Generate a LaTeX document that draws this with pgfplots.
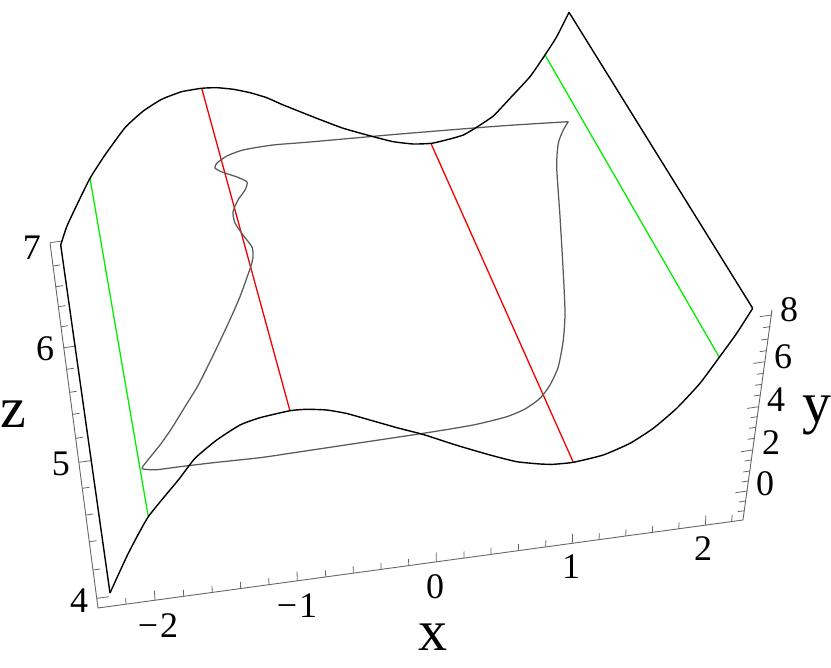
\documentclass[border=0pt]{standalone}
\usepackage{pgfplots}
\pgfplotsset{compat=1.18}
\usepackage{fontspec}
\setmainfont{Liberation Serif}
\definecolor{grn}{RGB}{0,240,0}
\definecolor{rd}{RGB}{245,0,0}
\tikzset{
  lab/.style={inner sep=0pt, font=\fontsize{36}{36}\selectfont, text=black},
  big/.style={inner sep=0pt, font=\fontsize{58}{58}\selectfont, text=black},
}
\begin{document}
\begin{tikzpicture}
\useasboundingbox (0,0) rectangle (831pt,668pt);
\begin{axis}[
  anchor=south west, at={(0,0)},
  scale only axis, width=831pt, height=668pt,
  xmin=0, xmax=831, ymin=0, ymax=668, y dir=reverse,
  hide axis, clip=false, unbounded coords=jump,
  every axis plot/.append style={no markers},
]
% box frame lines
\addplot[black!60, line width=0.9pt] coordinates {(50,243) (98,608) (743,520) (772,310)};
% z ticks
\addplot[black!60, line width=0.8pt] coordinates {
(50,242.7)(62,241) (nan,nan)
(53.1,266)(60,265) (nan,nan)
(55.8,286.7)(62.8,285.7) (nan,nan)
(58.5,306.7)(65.5,305.7) (nan,nan)
(61.1,326.7)(68,325.7) (nan,nan)
(63.9,347.7)(76,346) (nan,nan)
(66.8,369.3)(73.7,368.3) (nan,nan)
(69.8,392.3)(76.7,391.3) (nan,nan)
(72.7,414.3)(79.6,413.3) (nan,nan)
(75.9,438.3)(82.8,437.3) (nan,nan)
(79.1,462.3)(91,460.6) (nan,nan)
(82.5,488.3)(89.4,487.3) (nan,nan)
(86.1,515)(93,514) (nan,nan)
(89.6,541.7)(96.5,540.7) (nan,nan)
(93.3,570)(100.2,569) (nan,nan)
(97.1,598.3)(109,596.7)
};
% x ticks
\addplot[black!60, line width=0.8pt] coordinates {
(126,604.2)(125.7,597.7) (nan,nan)
(155,600.2)(154.4,590.7) (nan,nan)
(183.7,596.3)(183.4,589.8) (nan,nan)
(212.3,592.4)(212,585.9) (nan,nan)
(240.7,588.5)(240.4,582) (nan,nan)
(269,584.7)(268.7,578.2) (nan,nan)
(297.3,580.8)(297,571.3) (nan,nan)
(325.7,576.9)(325.5,570.4) (nan,nan)
(353.3,573.2)(353.1,566.7) (nan,nan)
(381,569.4)(380.9,562.9) (nan,nan)
(408.7,565.6)(408.6,559.1) (nan,nan)
(436.3,561.8)(436.3,552.3) (nan,nan)
(464,558.1)(464.1,551.6) (nan,nan)
(491,554.4)(491.1,547.9) (nan,nan)
(518.3,550.7)(518.5,544.2) (nan,nan)
(545.7,546.9)(545.9,540.4) (nan,nan)
(572.3,543.3)(572.6,533.8) (nan,nan)
(599,539.6)(599.3,533.1) (nan,nan)
(625.7,536)(626,529.5) (nan,nan)
(652.3,532.4)(652.7,525.9) (nan,nan)
(678.7,528.8)(679.1,522.3) (nan,nan)
(705.3,525.1)(705.9,515.6) (nan,nan)
(731.7,521.5)(732.2,515)
};
% y ticks
\addplot[black!60, line width=0.8pt] coordinates {
(771.6,315)(759.7,316.7) (nan,nan)
(770,326.7)(763,327.7) (nan,nan)
(768.3,339)(761.3,340) (nan,nan)
(766.7,350.7)(759.7,351.7) (nan,nan)
(765.2,361.7)(753.3,363.4) (nan,nan)
(763.6,373.3)(756.6,374.3) (nan,nan)
(762.1,384.3)(755.1,385.3) (nan,nan)
(760.6,395)(753.6,396) (nan,nan)
(759,406.7)(747.1,408.4) (nan,nan)
(757.6,416.7)(750.6,417.7) (nan,nan)
(756.1,427.3)(749.1,428.3) (nan,nan)
(754.6,438.3)(747.6,439.3) (nan,nan)
(753,450)(741.1,451.7) (nan,nan)
(751.6,460)(744.6,461) (nan,nan)
(750.1,471)(743.1,472) (nan,nan)
(748.7,481)(741.7,482) (nan,nan)
(747.3,491)(735.4,492.7) (nan,nan)
(745.9,501)(738.9,502) (nan,nan)
(744.6,510.7)(737.6,511.7)
};
% green and red lines
\addplot[grn, line width=1.3pt] coordinates {(90,178.3) (148.3,516.7)};
\addplot[grn, line width=1.3pt] coordinates {(545,55) (719.3,357.3)};
\addplot[rd, line width=1.3pt] coordinates {(201.7,88.3) (290,411)};
\addplot[rd, line width=1.3pt] coordinates {(431,143.5) (573.3,462.3)};
% gray curve
\addplot[black!65, line width=1.25pt, smooth, tension=0.4] coordinates {
(568.3,121.7)(500,126)(400,134)(310,142)(273,145)(243,150)(227,156)(217,163)(215,168)(222,172)(237,177)(247,182)(245,190)(238,200)(233,212)(235,223)(243,235)(252,247)(253,257)(250.7,266.7)(240,296.7)(228.3,323.3)(213.3,355)(198.3,385)(185,406.7)(171.7,428.3)(160,445)(142.7,466.7)(145,469.3)(156.7,469.7)(180,466.7)(213.3,462.7)(260,457.7)(290,453.3)(356.7,443.3)(423.3,433.3)(473.3,425)(506.7,416.7)(525,409)(540,398.3)(550,385)(558.3,366.7)(563.3,340)(565,313)(563.3,273)(560,216.7)(556.7,166.7)(558.3,143.3)(563.3,130)(568.3,121.7)};
% surface outline: back edge
\addplot[black, line width=1.4pt, smooth, tension=0.3] coordinates {
(60.7,245)(66.7,226.7)(76,206.7)(90,178.3)(105,155)(125,127.7)(143.3,111)(161.7,99.3)(181.7,91.7)(201.7,88.3)(216.7,87.7)(233.3,89.3)(250,92.7)(266.7,97.7)(283.3,105)(316.7,118.3)(343.3,128.3)(373.3,136.7)(393.3,141.7)(413.3,144)(431.7,143.3)(450,139)(463.3,135)(475,128.3)(493.3,116)(510,98.3)(530,76.7)(545,55)(556.7,36.7)(569,12.3)};
\addplot[black, line width=1.4pt] coordinates {(569,12.3) (752.7,308.3)};
% front edge
\addplot[black, line width=1.4pt, smooth, tension=0.3] coordinates {
(752.7,308.3)(736.7,333.3)(719.3,357.3)(700,383.3)(676.7,408.3)(653.3,428.3)(630,443.3)(603.3,455)(573.3,462.3)(553.3,464.3)(540,464)(516.7,461.7)(490,455)(456.7,445.3)(423.3,434.5)(398,428)(373.3,421)(346.7,413.5)(326.7,410)(306.7,409.3)(290,410.7)(260,417.7)(240,425)(216.7,440)(195,458.3)(178.3,480)(148.3,516.7)(128.3,553.3)(110,593)};
\addplot[black, line width=1.4pt] coordinates {(110,593) (60.7,245)};
% labels
\node[lab] at (axis cs:32,248) {7};
\node[lab] at (axis cs:45,349) {6};
\node[lab] at (axis cs:61,464) {5};
\node[lab] at (axis cs:79,601) {4};
\node[big] at (axis cs:13,414) {z};
\node[lab] at (axis cs:158,626) {−\kern2pt 2};
\node[lab] at (axis cs:297,606) {−\kern2pt 1};
\node[lab] at (axis cs:435,587) {0};
\node[lab] at (axis cs:571,567) {1};
\node[lab] at (axis cs:703,549) {2};
\node[big] at (axis cs:433,637) {x};
\node[lab] at (axis cs:789,310) {8};
\node[lab] at (axis cs:783,357) {6};
\node[lab] at (axis cs:776,400) {4};
\node[lab] at (axis cs:771,443) {2};
\node[lab] at (axis cs:765,484) {0};
\node[big] at (axis cs:817,415) {y};
\end{axis}
\end{tikzpicture}
\end{document}
